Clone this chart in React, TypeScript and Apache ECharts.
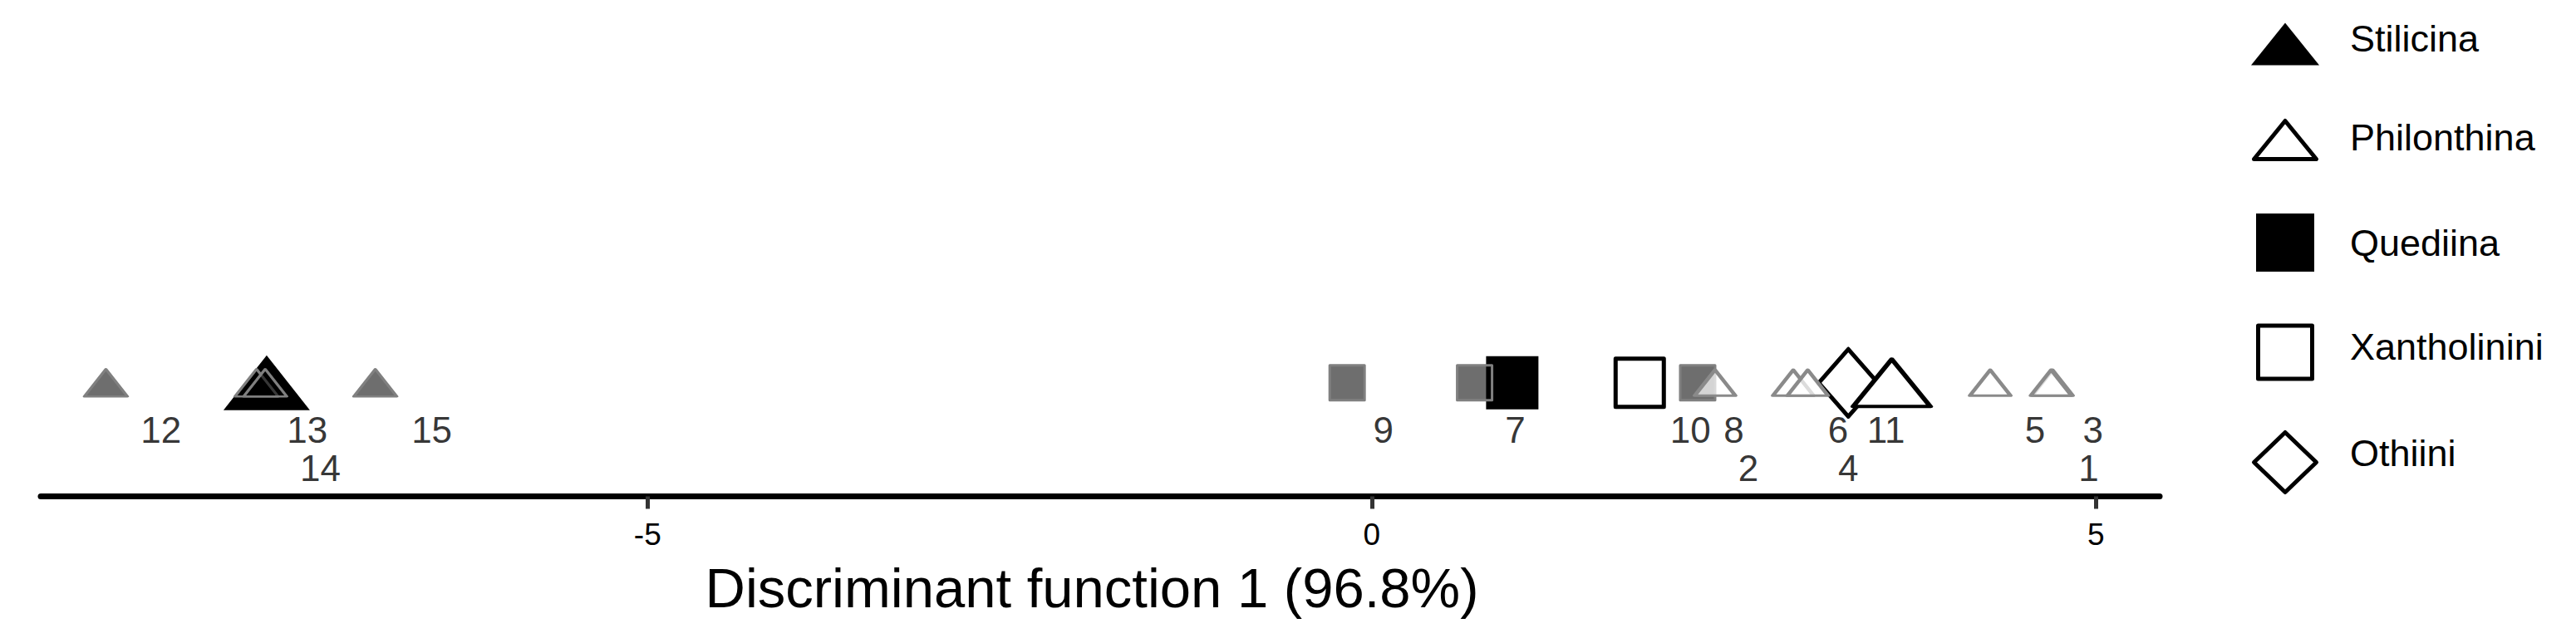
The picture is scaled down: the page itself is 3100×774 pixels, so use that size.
import { useEffect, useRef } from 'react';
import * as echarts from 'echarts';

const FONT = '"Liberation Sans", Arial, Helvetica, sans-serif';

// ---- Data: species scores on discriminant function 1 ----
const stilicinaIds = ['12', '13', '14', '15'];
const stilicinaX = [-8.74, -7.7, -7.64, -6.88];
const quediinaIds = ['9', '7', '8'];
const quediinaX = [-0.17, 0.71, 2.25];
const philonthinaIds = ['2', '6', '4', '5', '3', '1'];
const philonthinaX = [2.37, 2.91, 3.01, 4.27, 4.7, 4.69];
const xantholininiIds = ['10'];
const xantholininiX = [1.85];
const othiiniIds = ['11'];
const othiiniX = [3.29];

// ---- Group centroids ----
const groupNames = ['Stilicina', 'Philonthina', 'Quediina', 'Xantholinini', 'Othiini'];
const centroidX = [-7.63, 3.59, 0.97, 1.85, 3.29];

// ---- Point labels (x in DF1 units, row 1 = first line, row 2 = second line) ----
const labelIds = ['12', '13', '14', '15', '9', '7', '10', '8', '2', '6', '4', '11', '5', '3', '1'];
const labelX = [-8.36, -7.35, -7.26, -6.49, 0.08, 0.99, 2.2, 2.5, 2.6, 3.22, 3.29, 3.55, 4.58, 4.98, 4.95];
const labelRow = [1, 1, 2, 1, 1, 1, 1, 1, 2, 1, 2, 1, 1, 1, 2];

// ---- Axis ----
const xTicks = [-5, 0, 5];
const xMin = -9.19;
const xMax = 5.44;
const axisTitle = 'Discriminant function 1 (96.8%)';

// ---- Styles (not data) ----
const ROW_Y: Record<number, number> = { 1: -1.25, 2: -2.25 };
const GRAY_FILL = 'rgba(0,0,0,0.57)';
const GRAY_EDGE = '#808080';

const centroidStyle: Record<string, any> = {
  Stilicina: { symbol: 'triangle', size: [104, 66], color: '#000', bw: 0 },
  Philonthina: { symbol: 'triangle', size: [93, 57], color: '#fff', bw: 5 },
  Quediina: { symbol: 'rect', size: [63, 64], color: '#000', bw: 0 },
  Xantholinini: { symbol: 'rect', size: [58, 58], color: '#fff', bw: 5 },
  Othiini: { symbol: 'diamond', size: [71, 81], color: '#fff', bw: 5 },
};

const legendStyle: Record<string, any> = {
  Stilicina: { icon: 'triangle', w: 82, h: 51, bw: 0, fill: '#000', left: 2709, top: 23.5, pad: [0, 0, 14, 32] },
  Philonthina: { icon: 'triangle', w: 75, h: 46, bw: 5, fill: '#fff', left: 2710, top: 143, pad: [0, 0, 6, 35.5] },
  Quediina: { icon: 'rect', w: 70, h: 70, bw: 0, fill: '#000', left: 2715, top: 257, pad: [0, 0, 0, 38] },
  Xantholinini: { icon: 'rect', w: 65, h: 64, bw: 5, fill: '#fff', left: 2715, top: 389.5, pad: [0, 0, 14, 40.5] },
  Othiini: { icon: 'diamond', w: 75, h: 72, bw: 5, fill: '#fff', left: 2710, top: 518, pad: [0, 0, 23, 35.5] },
};

function pts(ids: string[], xs: number[]) {
  return ids.map((id, i) => ({ name: id, value: [xs[i], 0] }));
}

function buildOption() {
  const centroidSeries = groupNames.map((g, i) => {
    const s = centroidStyle[g];
    return {
      type: 'scatter',
      name: g,
      silent: true,
      symbol: s.symbol,
      symbolSize: s.size,
      itemStyle: {
        color: s.color,
        borderColor: '#000',
        borderWidth: s.bw,
        borderJoin: 'round',
        opacity: 1,
      },
      data: [{ name: g, value: [centroidX[i], 0] }],
    };
  });
  const orderedCentroids = ['Stilicina', 'Quediina', 'Xantholinini', 'Othiini', 'Philonthina'].map(
    (g) => centroidSeries[groupNames.indexOf(g)]
  );

  const hiddenSpecies = [
    {
      type: 'scatter', name: 'Xantholinini species', silent: true, symbol: 'rect', symbolSize: [58, 58],
      itemStyle: { color: '#fff', borderColor: GRAY_EDGE, borderWidth: 4 },
      data: pts(xantholininiIds, xantholininiX),
    },
    {
      type: 'scatter', name: 'Othiini species', silent: true, symbol: 'diamond', symbolSize: [71, 81],
      itemStyle: { color: '#fff', borderColor: GRAY_EDGE, borderWidth: 4 },
      data: pts(othiiniIds, othiiniX),
    },
  ];

  const speciesSeries = [
    {
      type: 'scatter', name: 'Stilicina species', silent: true, symbol: 'triangle', symbolSize: [52, 33],
      itemStyle: { color: GRAY_FILL, borderColor: GRAY_EDGE, borderWidth: 3, borderJoin: 'round', opacity: 1 },
      data: pts(stilicinaIds, stilicinaX),
    },
    {
      type: 'scatter', name: 'Quediina species', silent: true, symbol: 'rect', symbolSize: [42, 42],
      itemStyle: { color: GRAY_FILL, borderColor: GRAY_EDGE, borderWidth: 3, borderJoin: 'round', opacity: 1 },
      data: pts(quediinaIds, quediinaX),
    },
    {
      type: 'scatter', name: 'Philonthina species', silent: true, symbol: 'triangle', symbolSize: [49, 31],
      itemStyle: { color: 'rgba(255,255,255,0.7)', borderColor: '#8a8a8a', borderWidth: 4, borderJoin: 'round', opacity: 1 },
      data: pts(philonthinaIds, philonthinaX),
    },
  ];

  const labelSeries = {
    type: 'scatter',
    name: 'labels',
    silent: true,
    symbolSize: 1,
    itemStyle: { color: 'rgba(0,0,0,0)' },
    label: {
      show: true,
      position: 'inside',
      formatter: '{b}',
      fontSize: 44,
      color: '#000',
      textBorderWidth: 0,
      fontFamily: FONT,
    },
    labelLayout: { hideOverlap: false },
    data: labelIds.map((id, i) => ({ name: id, value: [labelX[i], ROW_Y[labelRow[i]]] })),
  };

  const legends = groupNames.map((g) => {
    const l = legendStyle[g];
    return {
      show: true,
      selectedMode: false,
      orient: 'vertical',
      left: l.left,
      top: l.top,
      padding: 0,
      itemGap: 0,
      itemWidth: l.w,
      itemHeight: l.h,
      data: [{ name: g, icon: l.icon }],
      itemStyle: {
        color: l.fill,
        borderColor: '#000',
        borderWidth: l.bw,
        borderJoin: 'round',
      },
      formatter: (name: string) => `{t|${name}}`,
      textStyle: {
        color: '#000',
        fontFamily: FONT,
        fontSize: 45,
        rich: {
          t: {
            fontSize: 45,
            lineHeight: 45,
            color: '#000',
            fontFamily: FONT,
            padding: l.pad,
          },
        },
      },
    };
  });

  return {
    animation: false,
    backgroundColor: '#fff',
    textStyle: { fontFamily: FONT },
    grid: { left: 49, right: 501, top: 5, bottom: 176.5, containLabel: false, outerBoundsMode: 'none' },
    xAxis: {
      type: 'value',
      min: xMin,
      max: xMax,
      axisLine: { show: true, onZero: false, lineStyle: { color: '#000', width: 7 } },
      axisTick: { show: true, length: 15, customValues: xTicks, lineStyle: { color: '#333', width: 5 } },
      axisLabel: { show: true, customValues: xTicks, margin: 27, fontSize: 37, color: '#000', fontFamily: FONT },
      splitLine: { show: false },
      name: axisTitle,
      nameLocation: 'middle',
      nameGap: 76,
      nameTextStyle: { fontSize: 67, color: '#000', fontFamily: FONT, padding: [0, 20, 0, 0] },
    },
    yAxis: { type: 'value', min: -3, max: 10, show: false, splitLine: { show: false } },
    legend: legends,
    series: [...hiddenSpecies, ...orderedCentroids, ...speciesSeries, labelSeries],
  };
}

export default function App() {
  const ref = useRef<HTMLDivElement>(null);
  useEffect(() => {
    if (!ref.current) return;
    const chart = echarts.init(ref.current, null, { renderer: 'svg' });
    chart.setOption(buildOption() as any);
    return () => chart.dispose();
  }, []);
  return (
    <div
      ref={ref}
      style={{ position: 'absolute', left: 0, top: 0, width: 3100, height: 774, background: '#fff' }}
    />
  );
}
